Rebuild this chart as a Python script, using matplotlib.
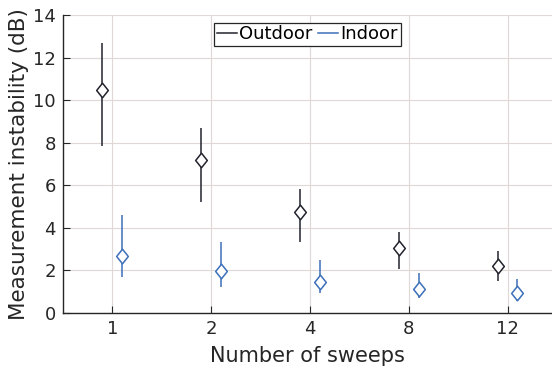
import matplotlib

matplotlib.use("Agg")

import matplotlib.pyplot as plt
import numpy as np
from matplotlib.lines import Line2D
from matplotlib.path import Path

# categories (number of sweeps)
sweeps = ["1", "2", "4", "8", "12"]

# outdoor: mean, upper and lower error-bar ends (dB)
outdoor_mean = [10.5, 7.2, 4.76, 3.04, 2.22]
outdoor_high = [12.68, 8.69, 5.81, 3.82, 2.91]
outdoor_low = [7.84, 5.23, 3.35, 2.07, 1.50]

# indoor
indoor_mean = [2.68, 1.96, 1.44, 1.11, 0.92]
indoor_high = [4.60, 3.35, 2.49, 1.89, 1.58]
indoor_low = [1.71, 1.24, 0.92, 0.69, 0.56]

OUT_COLOR = "#23232e"
IN_COLOR = "#3d6fba"
GRID_COLOR = "#e0d8d6"
TEXT_COLOR = "#262626"

plt.rcParams["font.family"] = ["DejaVu Sans"]

# slightly tall diamond, like the MATLAB marker
DIAMOND = Path([(0, 1), (0.8, 0), (0, -1), (-0.8, 0), (0, 1)],
               [Path.MOVETO, Path.LINETO, Path.LINETO, Path.LINETO, Path.CLOSEPOLY])

fig = plt.figure(figsize=(5.52, 3.69), dpi=100)
ax = fig.add_axes([0.114, 0.152, 0.886, 0.807])

x = np.arange(1, len(sweeps) + 1)
offset = 0.1


def draw_series(xpos, mean, high, low, color):
    mean = np.array(mean)
    yerr = [mean - np.array(low), np.array(high) - mean]
    ax.errorbar(xpos, mean, yerr=yerr, fmt="none", ecolor=color, elinewidth=1.1, capsize=0)
    ax.plot(xpos, mean, linestyle="none", marker=DIAMOND, markersize=10.5, markerfacecolor="white",
            markeredgecolor=color, markeredgewidth=1.1)


draw_series(x - offset, outdoor_mean, outdoor_high, outdoor_low, OUT_COLOR)
draw_series(x + offset, indoor_mean, indoor_high, indoor_low, IN_COLOR)

ax.set_xlim(0.5, 5.45)
ax.set_ylim(0, 14)
ax.set_xticks(x)
ax.set_xticklabels(sweeps)
ax.set_yticks(np.arange(0, 15, 2))
ax.tick_params(direction="in", labelsize=13, colors=TEXT_COLOR, length=5, width=0.8, pad=5)
ax.grid(True, color=GRID_COLOR, linewidth=0.8)
ax.set_axisbelow(True)
for side in ["top", "right"]:
    ax.spines[side].set_visible(False)
for side in ["left", "bottom"]:
    ax.spines[side].set_color(TEXT_COLOR)
    ax.spines[side].set_linewidth(1.0)

ax.set_xlabel("Number of sweeps", fontsize=15, color=TEXT_COLOR, labelpad=6)
ax.set_ylabel("Measurement instability (dB)", fontsize=15.5, color=TEXT_COLOR, labelpad=3)

handles = [Line2D([], [], color=OUT_COLOR, linewidth=1.1),
           Line2D([], [], color=IN_COLOR, linewidth=1.1)]
leg = ax.legend(handles, ["Outdoor", "Indoor"], loc="upper center", ncol=2, fontsize=13,
                handlelength=1.1, handletextpad=0.15, columnspacing=0.3, borderpad=0.15,
                borderaxespad=0, fancybox=False, framealpha=1, bbox_to_anchor=(0.5, 0.975))
leg.get_frame().set_edgecolor(TEXT_COLOR)
leg.get_frame().set_linewidth(0.9)

fig.savefig("out.png", dpi=100)
